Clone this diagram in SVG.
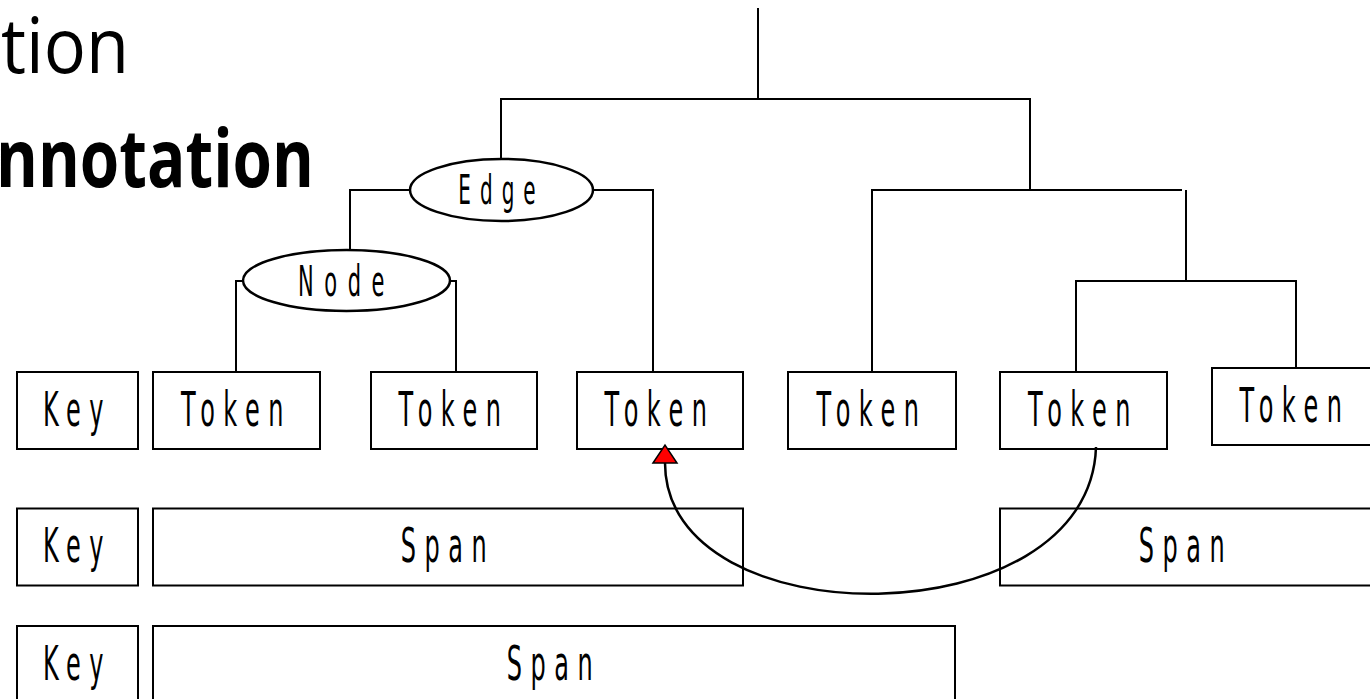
<svg xmlns="http://www.w3.org/2000/svg" width="1370" height="699" viewBox="0 0 1370 699">
<style>
.box{fill:#fff;stroke:#000;stroke-width:2}
.ell{fill:#fff;stroke:#000;stroke-width:2.5}
.lbl{font-family:"DejaVu Sans",sans-serif;font-size:48px;letter-spacing:17px;text-anchor:middle;fill:#000}
.elbl{font-family:"DejaVu Sans",sans-serif;text-anchor:middle;fill:#000}
.ln{fill:none;stroke:#000;stroke-width:2}
.title{font-family:"Open Sans","DejaVu Sans",sans-serif;fill:#000;text-anchor:end}
</style>
<defs>
<marker id="tri" markerUnits="userSpaceOnUse" viewBox="-2 -14 22 28" markerWidth="22" markerHeight="28" refX="0" refY="0" orient="auto" overflow="visible">
<path d="M0,-12 L18,0 L0,12 Z" fill="#ff0000" stroke="#000" stroke-width="1.5" stroke-linejoin="miter"/>
</marker>
</defs>
<rect width="1370" height="699" fill="#fff"/>
<g id="titles">
<text class="title" x="129" y="73" font-size="76" textLength="128" lengthAdjust="spacingAndGlyphs">tion</text>
<text class="title" x="314" y="187" font-size="80" font-weight="bold" textLength="318" lengthAdjust="spacingAndGlyphs">nnotation</text>
</g>
<g id="connectors">
<polyline class="ln" points="758,8 758,99"/>
<polyline class="ln" points="501,159 501,99 1030,99 1030,189"/>
<polyline class="ln" points="410,190 350,190 350,250"/>
<polyline class="ln" points="593,190 653,190 653,372"/>
<polyline class="ln" points="243,281 236,281 236,372"/>
<polyline class="ln" points="450,281 456,281 456,372"/>
<polyline class="ln" points="872,372 872,190 1182,190"/>
<polyline class="ln" points="1186,190 1186,281"/>
<polyline class="ln" points="1076,372 1076,281 1296,281 1296,370"/>
</g>
<g id="edge">
<ellipse class="ell" cx="501.5" cy="190" rx="91.5" ry="31"/>
<text class="elbl" transform="scale(0.5 1)" x="1003" y="204" font-size="40" letter-spacing="18">Edge</text>
</g>
<g id="node">
<ellipse class="ell" cx="346.5" cy="280.5" rx="103.5" ry="30.5"/>
<text class="elbl" transform="scale(0.5 1)" x="693" y="296" font-size="42" letter-spacing="21">Node</text>
</g>
<g id="key1">
<rect class="box" x="17" y="372" width="121" height="77"/>
<text class="lbl" transform="scale(0.5 1)" x="155" y="426">Key</text>
</g>
<g id="token1">
<rect class="box" x="153" y="372" width="167" height="77"/>
<text class="lbl" transform="scale(0.5 1)" x="473" y="426">Token</text>
</g>
<g id="token2">
<rect class="box" x="371" y="372" width="166" height="77"/>
<text class="lbl" transform="scale(0.5 1)" x="908" y="426">Token</text>
</g>
<g id="token3">
<rect class="box" x="577" y="372" width="166" height="77"/>
<text class="lbl" transform="scale(0.5 1)" x="1320" y="426">Token</text>
</g>
<g id="token4">
<rect class="box" x="788" y="372" width="168" height="77"/>
<text class="lbl" transform="scale(0.5 1)" x="1744" y="426">Token</text>
</g>
<g id="token5">
<rect class="box" x="1000" y="372" width="167" height="77"/>
<text class="lbl" transform="scale(0.5 1)" x="2167" y="426">Token</text>
</g>
<g id="token6">
<rect class="box" x="1212" y="368" width="166" height="77"/>
<text class="lbl" transform="scale(0.5 1)" x="2590" y="422">Token</text>
</g>
<g id="key2">
<rect class="box" x="17" y="508.5" width="121" height="77"/>
<text class="lbl" transform="scale(0.5 1)" x="155" y="562">Key</text>
</g>
<g id="span1">
<rect class="box" x="153" y="508.5" width="590" height="77"/>
<text class="lbl" transform="scale(0.5 1)" x="896" y="562">Span</text>
</g>
<g id="span2">
<rect class="box" x="1000" y="508.5" width="380" height="77"/>
<text class="lbl" transform="scale(0.5 1)" x="2372" y="562">Span</text>
</g>
<g id="key3">
<rect class="box" x="17" y="626" width="121" height="77"/>
<text class="lbl" transform="scale(0.5 1)" x="155" y="680">Key</text>
</g>
<g id="span3">
<rect class="box" x="153" y="626" width="802" height="77"/>
<text class="lbl" transform="scale(0.5 1)" x="1108" y="680">Span</text>
</g>
<g id="link">
<path d="M1096,447 C1090,640 665,640 665,463" fill="none" stroke="#000" stroke-width="2.5" marker-end="url(#tri)"/>
</g>
</svg>
